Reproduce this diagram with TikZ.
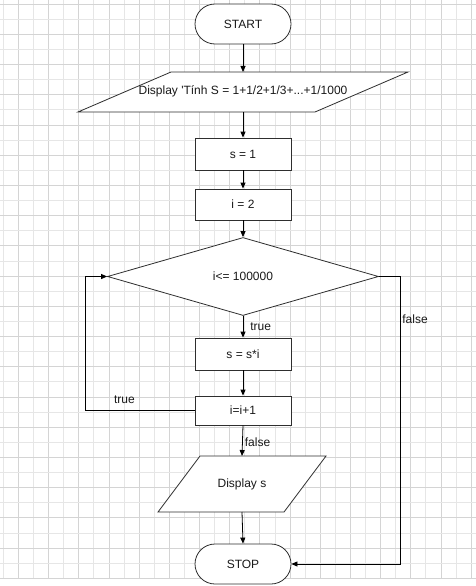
\documentclass[tikz,border=0pt]{standalone}
\usepackage{fontspec}
\setmainfont{Liberation Sans}
\usetikzlibrary{shapes.geometric, arrows.meta}
\definecolor{gridlight}{HTML}{E6E6E6}
\definecolor{griddark}{HTML}{D4D4D4}
\definecolor{outline}{HTML}{2E2E2E}

\begin{document}
\begin{tikzpicture}[x=1pt, y=-1pt,
  txt/.style={font=\fontsize{12}{14}\selectfont, text=black!90},
  box/.style={txt, draw=outline, fill=white, line width=0.8pt, minimum width=96pt, inner sep=0pt},
  term/.style={box, rounded corners=20pt, minimum height=40pt},
  decision/.style={txt, diamond, draw=outline, fill=white, line width=0.8pt, inner sep=0pt, minimum width=271pt, minimum height=78pt},
  ioframe/.style={inner sep=0pt, outer sep=0pt},
  ioshape/.style={draw=outline, fill=white, line width=0.8pt},
  flow/.style={draw=black, line width=0.8pt, -{Triangle[length=6pt,width=5pt]}},
  lbl/.style={txt, inner sep=0pt},
  gridminor/.style={draw=gridlight, line width=0.7pt},
  gridmajor/.style={draw=griddark, line width=0.7pt}
]
% page and background grid
\fill[white] (0,0) rectangle (476,586);
\useasboundingbox (0,0) rectangle (476,586);
\foreach \k in {0,2,...,30} \draw[gridminor] ({3.3+15.09*\k},0) -- ({3.3+15.09*\k},578.3);
\foreach \k in {1,3,...,31} \draw[gridmajor] ({3.3+15.09*\k},0) -- ({3.3+15.09*\k},578.3);
\foreach \k in {1,3,...,37} \draw[gridminor] (0,{4+15.11*\k}) -- (476,{4+15.11*\k});
\foreach \k in {0,2,...,38} \draw[gridmajor] (0,{4+15.11*\k}) -- (476,{4+15.11*\k});

% start
\node[term] (start) at (243,24) {START};

% first output parallelogram
\node[ioframe, minimum width=237pt, minimum height=40pt] (disp1) at (243,92) {};
\draw[ioshape] ([xshift=46.5pt]disp1.north west) -- ([xshift=46.5pt]disp1.north east)
  -- ([xshift=-46.5pt]disp1.south east) -- ([xshift=-46.5pt]disp1.south west) -- cycle;
\node[lbl] (disp1text) at ([yshift=1pt]disp1.center) {Display \textquotesingle Tính S = 1+1/2+1/3+...+1/1000};

% assignments
\node[box, minimum height=32pt] (s1) at (243,154) {s = 1};
\node[box, minimum height=31pt] (i2) at (243,204.5) {i = 2};

% loop test
\node[decision] (cond) at (243,276.5) {i<= 100000};

% loop body
\node[box, minimum height=32pt] (mul) at (243,354) {s = s*i};
\node[box, minimum height=29pt] (inc) at (243,410.5) {i=i+1};

% result output parallelogram
\node[ioframe, minimum width=126pt, minimum height=56pt] (disp2) at (242,484) {};
\draw[ioshape] ([xshift=21pt]disp2.north west) -- ([xshift=21pt]disp2.north east)
  -- ([xshift=-21pt]disp2.south east) -- ([xshift=-21pt]disp2.south west) -- cycle;
\node[lbl] (disp2text) at (disp2.center) {Display s};

% stop
\node[term] (stop) at (243,564) {STOP};

% bend points of the side connectors
\coordinate (loopL) at (85,410.5);
\coordinate (falseR) at (400,276.5);

% connectors
\draw[flow] (start.south) -- (disp1.north);
\draw[flow] (disp1.south) -- (s1.north);
\draw[flow] (s1.south) -- (i2.north);
\draw[flow] (i2.south) -- (cond.north);
\draw[flow] (cond.south) -- node[lbl, right=7pt] (ltrue) {true} (mul.north);
\draw[flow] (mul.south) -- (inc.north);
\draw[flow] (inc.west) -- (loopL) |- (cond.west);
\node[lbl] (lback) at (124.5,399.5) {true};
\draw[flow] (cond.east) -- (falseR) |- (stop.east);
\node[lbl] (lexit) at (415,319) {false};
\draw[flow] (inc.south) -- node[lbl, right=2pt, yshift=-1.5pt] (lfalse) {false} (disp2.north);
\draw[flow] (disp2.south) -- (stop.north);
\end{tikzpicture}
\end{document}
